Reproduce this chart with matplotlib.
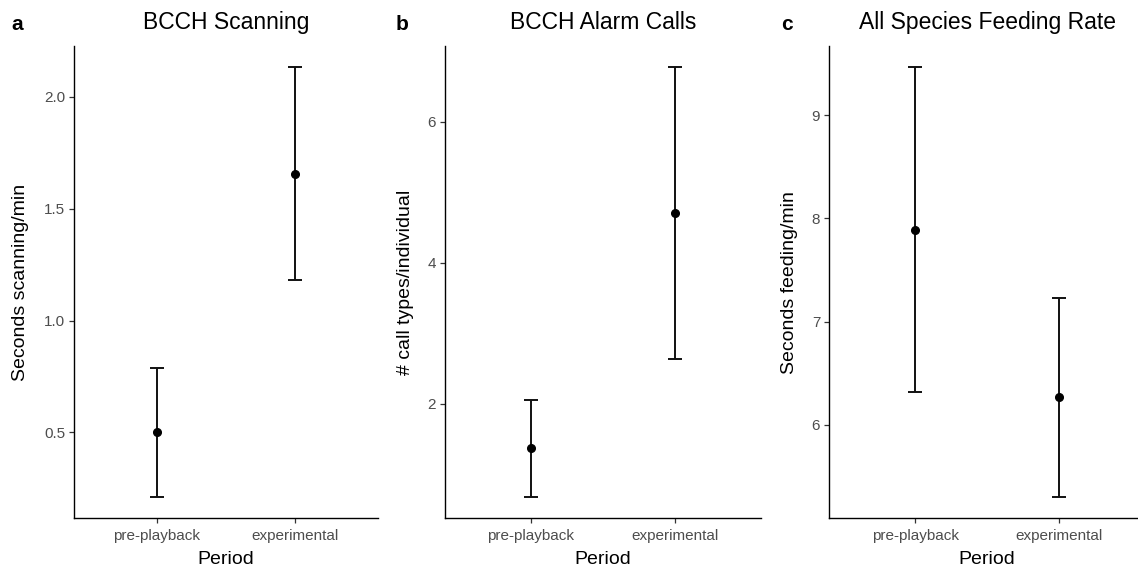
import matplotlib
matplotlib.use("Agg")
import matplotlib.pyplot as plt

plt.rcParams['font.family'] = ['Liberation Sans', 'DejaVu Sans']

periods = ["pre-playback", "experimental"]

titles = ["BCCH Scanning", "BCCH Alarm Calls", "All Species Feeding Rate"]
panel_letters = ["a", "b", "c"]
ylabels = ["Seconds scanning/min", "# call types/individual", "Seconds feeding/min"]

scan_mean = [0.50, 1.653]
scan_low = [0.212, 1.179]
scan_high = [0.789, 2.131]

alarm_mean = [1.37, 4.70]
alarm_low = [0.68, 2.64]
alarm_high = [2.06, 6.77]

feed_mean = [7.885, 6.265]
feed_low = [6.318, 5.30]
feed_high = [9.465, 7.228]

yticks = [[0.5, 1.0, 1.5, 2.0], [2, 4, 6], [6, 7, 8, 9]]
yticklabels = [["0.5", "1.0", "1.5", "2.0"], ["2", "4", "6"], ["6", "7", "8", "9"]]

series = [(scan_mean, scan_low, scan_high),
          (alarm_mean, alarm_low, alarm_high),
          (feed_mean, feed_low, feed_high)]

W, H = 1138, 567
fig = plt.figure(figsize=(W / 100, H / 100), dpi=100)

# layout in pixels: (left, right)
px_lr = [(73.7, 378.0), (444.5, 761.4), (828.5, 1146.0)]
top_px, bot_px = 46.0, 518.3
ylab_px = [21.0, 405.0, 789.0]
letter_px = [11.0, 396.0, 781.0]

for i in range(3):
    l, r = px_lr[i]
    ax = fig.add_axes([l / W, 1 - bot_px / H, (r - l) / W, (bot_px - top_px) / H])
    m, lo, hi = series[i]
    x = list(range(1, len(periods) + 1))
    yerr = [[mm - a for mm, a in zip(m, lo)], [b - mm for mm, b in zip(m, hi)]]
    ax.errorbar(x, m, yerr=yerr, fmt='o', color='black', ecolor='#111111',
                elinewidth=1.4, capsize=5.2, capthick=1.4, markersize=5.5)
    ax.set_xlim(0.4, 2.6)
    dmin, dmax = min(lo), max(hi)
    rng = dmax - dmin
    ax.set_ylim(dmin - 0.05 * rng, dmax + 0.05 * rng)
    ax.set_xticks(x)
    ax.set_xticklabels(periods)
    ax.set_yticks(yticks[i])
    ax.set_yticklabels(yticklabels[i])
    for s in ['top', 'right']:
        ax.spines[s].set_visible(False)
    for s in ['left', 'bottom']:
        ax.spines[s].set_linewidth(1.0)
        ax.spines[s].set_color('black')
    ax.tick_params(axis='both', length=3.5, width=0.9, color='#333333',
                   labelcolor='#4D4D4D', labelsize=11, pad=2.5)
    ax.tick_params(axis='x', pad=4.5)
    ax.set_title(titles[i], fontsize=16.5, pad=12.5)
    ax.set_xlabel("Period", fontsize=14)
    ax.xaxis.set_label_coords(0.5, -(559 - bot_px) / (bot_px - top_px))
    ax.xaxis.label.set_va('center')
    ax.set_ylabel(ylabels[i], fontsize=14)
    ax.yaxis.set_label_coords(-(l - ylab_px[i]) / (r - l), 0.5)
    ax.yaxis.label.set_va('center')
    fig.text(letter_px[i] / W, 1 - 24 / H, panel_letters[i], fontsize=15,
             fontweight='bold', ha='left', va='center')

fig.savefig("out.png", dpi=100)
